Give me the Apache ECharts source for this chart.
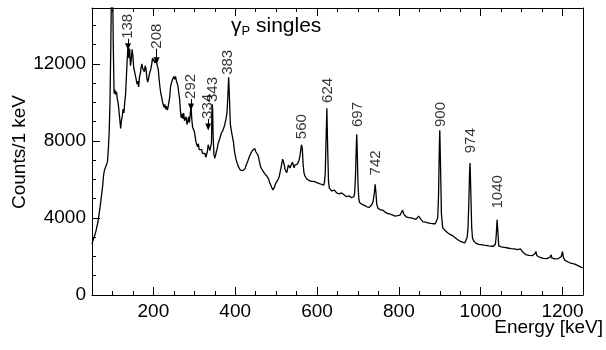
<!DOCTYPE html>
<html><head><meta charset="utf-8">
<script src="https://cdn.jsdelivr.net/npm/echarts@6/dist/echarts.min.js"></script>
<style>html,body{margin:0;padding:0;background:#fff}#c{width:606px;height:350px}</style>
</head><body><div id="c"></div>
<script>
const energy = [50,52,54,56,58,60,62,64,66,68,70,72,74,76,78,80,82,84,86,88,90,92,94,96,98,100,102,104,106,108,110,112,114,116,118,120,122,124,126,128,130,132,134,136,138,140,142,144,146,148,150,152,154,156,158,160,162,164,166,168,170,172,174,176,178,180,182,184,186,188,190,192,194,196,198,200,202,204,206,208,210,212,214,216,218,220,222,224,226,228,230,232,234,236,238,240,242,244,246,248,250,252,254,256,258,260,262,264,266,268,270,272,274,276,278,280,282,284,286,288,290,292,294,296,298,300,302,304,306,308,310,312,314,316,318,320,322,324,326,328,330,332,334,336,338,340,342,343,344,345,346,348,350,352,354,356,358,360,362,364,366,368,370,372,374,376,378,380,382,384,386,388,390,392,394,396,398,400,402,404,406,408,410,412,414,416,418,420,422,424,426,428,430,432,434,436,438,440,442,444,446,448,450,452,454,456,458,460,462,464,466,468,470,472,474,476,478,480,482,484,486,488,490,492,494,496,498,500,502,504,506,508,510,512,514,516,518,520,522,524,526,528,530,532,534,536,538,540,542,544,546,548,550,552,554,556,558,560,562,563,564,566,568,570,572,574,576,578,580,582,584,586,588,590,592,594,596,598,600,602,604,606,608,610,612,614,616,618,620,622,624,626,628,630,632,634,636,638,640,642,644,646,648,650,652,654,656,658,660,662,664,666,668,670,672,674,676,678,680,682,684,686,688,690,692,694,696,697,698,700,702,704,707,710,713,716,719,722,725,728,731,734,737,740,742,744,746,749,752,755,758,761,764,767,770,773,776,779,782,785,788,791,794,797,800,803,806,809,812,815,818,821,824,827,830,833,836,839,842,845,848,850,853,856,859,862,865,868,871,874,877,880,883,886,889,892,895,897,899,900,902,904,907,910,913,916,919,922,925,928,931,934,937,940,943,946,949,952,955,958,961,964,967,969,971,973,974,976,978,980,983,986,989,992,995,998,1001,1004,1007,1010,1013,1016,1019,1022,1025,1028,1031,1034,1036,1038,1040,1042,1044,1047,1050,1054,1058,1062,1066,1070,1074,1078,1082,1086,1090,1094,1097,1099,1102,1106,1110,1114,1118,1122,1126,1130,1133,1135,1137,1141,1145,1149,1153,1157,1161,1165,1169,1172,1174,1178,1182,1186,1190,1194,1197,1200,1202,1206,1210,1215,1220,1225,1230,1235,1240,1245,1250];
const counts = [2650,2800,2900,3050,3200,3350,3450,3750,4000,4300,4600,4950,5300,5650,6150,6450,6550,6500,6800,6950,7600,8450,10000,13000,16500,16800,13000,10450,10650,10400,10550,10150,9950,9550,9100,8650,9050,9300,9650,9450,10000,10400,11300,12200,12950,12300,12800,11900,12200,12750,12400,11800,11900,11400,11200,10950,11100,10800,11300,11500,11800,12000,11750,11850,11600,11900,11750,11300,11050,11200,11450,11350,11750,12000,12300,12200,12400,12050,12300,12050,12000,11700,11200,10800,10500,10300,10050,9950,9750,9900,9650,9800,9600,9750,9700,10300,10800,11000,11150,11250,11350,11200,11350,11150,11000,10850,10500,10200,9600,9200,9400,9150,9450,9050,9100,9250,8850,9000,9250,8950,9350,9800,9100,8700,8800,8500,8250,7950,7900,7700,7850,7550,7600,7450,7550,7350,7450,7250,7350,7150,7250,7450,7800,7650,7500,7600,7900,9400,9900,9500,8300,7300,7100,7250,7450,7600,7850,7950,8100,8200,8400,8350,8550,8600,8800,9000,9200,9500,10300,11300,10200,8900,8600,8350,8150,7900,7500,7250,7050,6900,6800,6650,6600,6500,6450,6550,6450,6400,6500,6550,6700,6750,6900,7000,7150,7250,7350,7400,7500,7550,7500,7600,7450,7500,7350,7250,7050,6850,6650,6550,6500,6400,6450,6300,6250,6300,6150,6050,6000,5850,5750,5650,5550,5450,5500,5600,5750,5850,5900,5950,6050,6200,6400,6600,6850,7050,7100,6750,6500,6400,6350,6550,6750,6800,6600,6550,6700,6900,6750,6600,6750,6800,6650,6800,6900,7000,7200,7500,7800,7900,7600,6800,6350,6200,6100,6050,6000,6050,5950,5900,5950,5900,6000,5850,5900,5850,5800,5850,5800,5750,5800,5750,5700,5750,5700,5750,5700,5850,6300,8000,9700,7600,5900,5550,5500,5450,5400,5450,5400,5450,5350,5400,5300,5350,5300,5250,5300,5250,5300,5200,5250,5200,5150,5200,5100,5150,5100,5150,5100,5150,5050,5100,5050,5100,5300,6200,7800,8350,7700,5800,5000,4800,4750,4700,4720,4650,4630,4580,4600,4550,4620,4700,4850,5300,5750,5300,4700,4500,4450,4420,4380,4400,4320,4300,4280,4220,4250,4200,4220,4150,4180,4100,4150,4120,4100,4150,4200,4400,4200,4100,4050,4000,4020,3950,4000,3950,3970,3900,3930,3950,4100,4150,3950,3850,3800,3820,3780,3800,3750,3770,3720,3740,3700,3720,3700,3800,4000,5200,7800,8550,6500,4200,3500,3400,3350,3300,3230,3200,3150,3120,3080,3020,2980,2920,2880,2850,2800,2780,2750,2720,2700,2750,3000,3500,4800,6500,6850,5200,3500,2950,2800,2720,2680,2650,2630,2600,2620,2580,2590,2560,2580,2540,2550,2530,2540,2510,2530,2550,2650,3100,3900,3300,2550,2480,2500,2460,2470,2430,2440,2400,2410,2380,2390,2350,2360,2340,2400,2450,2250,2150,2100,2080,2060,2050,2040,2060,2150,2260,2050,1980,1950,1920,1900,1880,1890,1900,1950,2090,1920,1890,1880,1870,1890,1900,2000,2260,1950,1800,1740,1700,1650,1630,1600,1550,1500,1450,1400];

const xMajorTicks = [200,400,600,800,1000,1200];
const xMinorTicks = [100,150,250,300,350,450,500,550,650,700,750,850,900,950,1050,1100,1150];
const yMajorTicks = [0,4000,8000,12000];
const yMinorTicks = [1000,2000,3000,5000,6000,7000,9000,10000,11000,13000,14000];

const peakLabels = ['138','208','292','334','343','383','560','624','697','742','900','974','1040'];
const peakEnergy = [138,208,292,334,345,383,563,626,699,743,902,976,1042];
const labelBase = [13300,12790,10180,9140,10020,11430,8090,9970,8720,6210,8720,7360,4490];
const arrowEnergy = [138,208,292,334];
const arrowStart = [13300,12790,10180,9140];
const arrowTip = [12890,12160,9760,8720];

const FONT = '"Liberation Sans", Arial, Helvetica, sans-serif';
const FS = 19;
const chart = echarts.init(document.getElementById('c'), null, {renderer:'canvas'});

function xAx(pos, ticks, len, labels, line) {
  return {type:'value', min:50, max:1250, position:pos,
    axisLine:{show:!!line, onZero:false, lineStyle:{color:'#000', width:1}}, splitLine:{show:false},
    axisTick:{show:true, inside:true, length:len, customValues:ticks, lineStyle:{color:'#000', width:1}},
    axisLabel: labels ? {show:true, customValues:ticks, formatter:v=>String(v), fontSize:FS, color:'#000', margin:7, fontFamily:FONT} : {show:false}};
}
function yAx(pos, ticks, len, labels, line) {
  return {type:'value', min:0, max:14900, position:pos,
    axisLine:{show:!!line, onZero:false, lineStyle:{color:'#000', width:1}}, splitLine:{show:false},
    axisTick:{show: !!ticks, inside:true, length:len, customValues:ticks || undefined, lineStyle:{color:'#000', width:1}},
    axisLabel: labels ? {show:true, customValues:ticks, formatter:v=>String(v), fontSize:FS, color:'#000', margin:6, fontFamily:FONT} : {show:false}};
}

chart.setOption({
  animation:false,
  backgroundColor:'#fff',
  grid:{left:92, right:23, top:8, bottom:55, show:false, outerBoundsMode:'none'},
  xAxis:[xAx('bottom', xMajorTicks, 8, true, true), xAx('bottom', xMinorTicks, 4, false), xAx('top', xMajorTicks, 8, false, true), xAx('top', xMinorTicks, 4, false)],
  yAxis:[yAx('left', yMajorTicks, 8, true, true), yAx('left', yMinorTicks, 4, false), yAx('right', null, 0, false, true)],
  title:{text:'{g|γ}{s|P} singles', left:226, top:10,
    textStyle:{fontFamily:FONT, fontSize:21, fontWeight:'normal', color:'#000',
      rich:{g:{fontFamily:FONT, fontSize:21, color:'#000'}, s:{fontFamily:FONT, fontSize:13, color:'#000', padding:[10,0,0,0]}}}},
  graphic:[
    {type:'text', x:603, y:328, style:{text:'Energy [keV]', font:FS+'px '+FONT, fill:'#000', align:'right', verticalAlign:'middle'}},
    {type:'text', x:20, y:152, rotation:Math.PI/2, style:{text:'Counts/1 keV', font:FS+'px '+FONT, fill:'#000', align:'center', verticalAlign:'middle'}}
  ],
  series:[
    {type:'line', xAxisIndex:0, yAxisIndex:0, data:energy.map((e,i)=>[e,counts[i]]), showSymbol:false, symbol:'none',
     lineStyle:{color:'#000', width:1.3}, clip:true},
    {type:'scatter', xAxisIndex:0, yAxisIndex:0, symbolSize:0,
     data:peakEnergy.map((e,i)=>({value:[e,labelBase[i]], name:peakLabels[i]})),
     label:{show:true, formatter:p=>p.name, position:'top', distance:0, rotate:90, align:'left', verticalAlign:'middle',
       fontSize:15, color:'#000', fontFamily:FONT}},
    {type:'line', xAxisIndex:0, yAxisIndex:0, data:[], markLine:{silent:true, symbol:['none','triangle'], symbolSize:[6,7],
      lineStyle:{color:'#000', width:1, type:'solid'}, label:{show:false},
      data:arrowEnergy.map((e,i)=>[{coord:[e,arrowStart[i]]},{coord:[e,arrowTip[i]]}])}}
  ]
});
</script></body></html>
